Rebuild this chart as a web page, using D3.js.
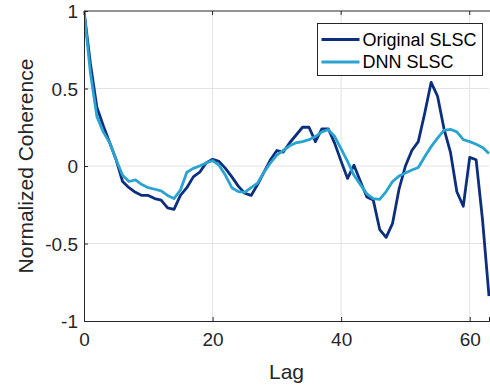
<!DOCTYPE html>
<html>
<head>
<meta charset="utf-8">
<script src="https://cdn.jsdelivr.net/npm/d3@7"></script>
<style>
  html, body { margin: 0; padding: 0; background: #fff; }
  svg { display: block; font-family: "Liberation Sans", Arial, sans-serif; }
</style>
</head>
<body>
<div id="chart"></div>
<script>
// lag values 0..63
var lags = d3.range(0, 64);

var original = [
  1.0, 0.66, 0.38, 0.26, 0.15, 0.04, -0.10, -0.14, -0.17, -0.19,
  -0.19, -0.21, -0.22, -0.27, -0.28, -0.19, -0.14, -0.07, -0.04, 0.02,
  0.043, 0.03, -0.015, -0.07, -0.13, -0.176, -0.19, -0.12, -0.04, 0.04,
  0.10, 0.09, 0.15, 0.20, 0.25, 0.25, 0.157, 0.24, 0.24, 0.146,
  0.03, -0.08, 0.005, -0.10, -0.20, -0.22, -0.41, -0.46, -0.37, -0.15,
  0.0, 0.10, 0.157, 0.34, 0.54, 0.45, 0.24, 0.09, -0.166, -0.26,
  0.056, 0.04, -0.35, -0.84
];

var dnn = [
  1.0, 0.60, 0.32, 0.22, 0.15, 0.04, -0.06, -0.10, -0.09, -0.12,
  -0.14, -0.15, -0.16, -0.19, -0.21, -0.155, -0.04, -0.015, 0.0, 0.02,
  0.035, 0.005, -0.06, -0.14, -0.165, -0.17, -0.14, -0.11, -0.04, 0.02,
  0.07, 0.10, 0.13, 0.15, 0.157, 0.17, 0.19, 0.22, 0.235, 0.19,
  0.11, 0.03, -0.06, -0.12, -0.18, -0.21, -0.215, -0.165, -0.10, -0.065,
  -0.045, -0.026, -0.01, 0.06, 0.125, 0.18, 0.23, 0.237, 0.22, 0.17,
  0.157, 0.14, 0.12, 0.08
];

var xTicks = [0, 20, 40, 60];
var yTicks = [-1, -0.5, 0, 0.5, 1];
var seriesNames = ["Original SLSC", "DNN SLSC"];
var seriesColors = ["#0c2f7d", "#2aa3d1"];

var W = 490, H = 388;
var margin = { top: 11, right: 1, bottom: 67, left: 84 };
var width = 405, height = 310;

var svg = d3.select("#chart").append("svg")
  .attr("width", W)
  .attr("height", H);

var g = svg.append("g")
  .attr("transform", `translate(${margin.left},${margin.top})`);

var x = d3.scaleLinear().domain([0, 63]).range([0, width]);
var y = d3.scaleLinear().domain([-1, 1]).range([height, 0]);

// grid
g.append("g").selectAll("line").data(xTicks.filter(d => d > 0))
  .join("line")
  .attr("x1", d => x(d)).attr("x2", d => x(d))
  .attr("y1", 0).attr("y2", height)
  .attr("stroke", "#e3e3e3").attr("stroke-width", 1);
g.append("g").selectAll("line").data(yTicks.filter(d => d > -1 && d < 1))
  .join("line")
  .attr("x1", 0).attr("x2", width)
  .attr("y1", d => y(d)).attr("y2", d => y(d))
  .attr("stroke", "#e3e3e3").attr("stroke-width", 1);

// clip for lines
svg.append("defs").append("clipPath").attr("id", "clip")
  .append("rect").attr("x", 0).attr("y", -2).attr("width", width + 2).attr("height", height + 4);

var line = d3.line()
  .x((d, i) => x(lags[i]))
  .y(d => y(d));

var plotG = g.append("g").attr("clip-path", "url(#clip)");
[original, dnn].forEach((s, k) => {
  plotG.append("path")
    .datum(s)
    .attr("fill", "none")
    .attr("stroke", seriesColors[k])
    .attr("stroke-width", 2.8)
    .attr("stroke-linejoin", "round")
    .attr("d", line);
});

// axes
var axisColor = "#262626";
var xAxis = g.append("g")
  .attr("transform", `translate(0,${height})`)
  .call(d3.axisBottom(x).tickValues(xTicks).tickSize(-4).tickPadding(12)
    .tickFormat(d => String(d)));
var yAxis = g.append("g")
  .call(d3.axisLeft(y).tickValues(yTicks).tickSize(-4).tickPadding(6)
    .tickFormat(d => String(d)));
[xAxis, yAxis].forEach(a => {
  a.select(".domain").attr("stroke", axisColor).attr("stroke-width", 1);
  a.selectAll(".tick line").attr("stroke", axisColor);
  a.selectAll(".tick text").attr("fill", "#262626").style("font-size", "19px");
});
yAxis.selectAll(".tick text").attr("dy", "0.36em");

// top box line with ticks
g.append("line")
  .attr("x1", 0).attr("x2", width + 1)
  .attr("y1", 0).attr("y2", 0)
  .attr("stroke", axisColor).attr("stroke-width", 1);
g.append("g").selectAll("line").data(xTicks)
  .join("line")
  .attr("x1", d => x(d)).attr("x2", d => x(d))
  .attr("y1", 0).attr("y2", 4)
  .attr("stroke", axisColor);

// axis labels
svg.append("text")
  .attr("x", margin.left + width / 2)
  .attr("y", 379)
  .attr("text-anchor", "middle")
  .attr("fill", "#262626")
  .style("font-size", "21px")
  .text("Lag");

svg.append("text")
  .attr("transform", `translate(33,${margin.top + height / 2}) rotate(-90)`)
  .attr("text-anchor", "middle")
  .attr("fill", "#262626")
  .style("font-size", "21px")
  .text("Normalized Coherence");

// legend
var leg = svg.append("g").attr("transform", "translate(317.5,23.5)");
leg.append("rect")
  .attr("width", 165).attr("height", 52)
  .attr("fill", "#fff")
  .attr("stroke", axisColor).attr("stroke-width", 1);
seriesNames.forEach((name, k) => {
  var ly = 16 + k * 22.5;
  leg.append("line")
    .attr("x1", 4).attr("x2", 42)
    .attr("y1", ly).attr("y2", ly)
    .attr("stroke", seriesColors[k]).attr("stroke-width", 2.8);
  leg.append("text")
    .attr("x", 45).attr("y", ly)
    .attr("dy", "0.35em")
    .attr("fill", "#000")
    .style("font-size", "18px")
    .text(name);
});
</script>
</body>
</html>
